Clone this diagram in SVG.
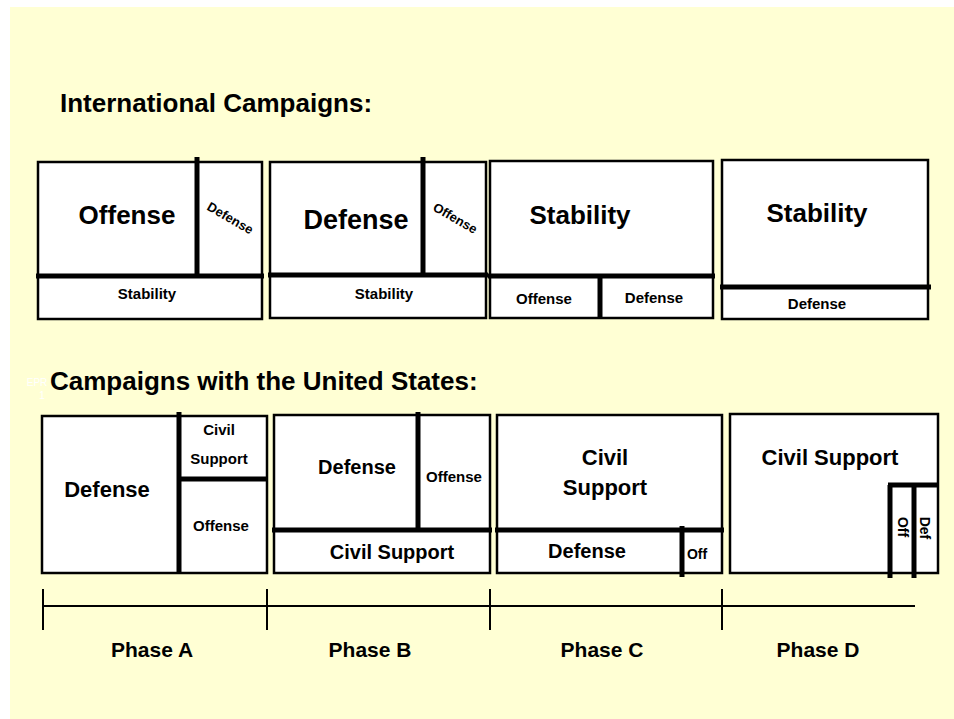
<svg xmlns="http://www.w3.org/2000/svg" width="954" height="719" viewBox="0 0 954 719">
<style>
text{font-family:"Liberation Sans",Arial,sans-serif;font-weight:bold;fill:#000;text-anchor:middle}
.box{fill:#fff;stroke:#000;stroke-width:2.5}
.div{stroke:#000;stroke-width:5;fill:none}
.tl{stroke:#000;stroke-width:2;fill:none}
.title{font-size:26px;text-anchor:start}
.big{font-size:26px}
.mid{font-size:21px}
.sm{font-size:15px}
.rot{font-size:13px}
.ph{font-size:21px}
</style>
<rect x="0" y="0" width="954" height="719" fill="#fff"/>
<rect x="10" y="7" width="944" height="712" fill="#FFFFD4"/>

<text class="title" x="60" y="112">International Campaigns:</text>
<text x="37" y="386" style="font-size:10px;fill:#fff;font-weight:normal">EPR</text>
<text x="42" y="399" style="font-size:10px;fill:#fff;font-weight:normal">1</text>
<text class="title" x="50" y="390">Campaigns with the United States:</text>

<g id="intl-phase-a">
<rect class="box" x="38" y="162" width="224" height="157"/>
<line class="div" x1="36" y1="276" x2="264" y2="276"/>
<line class="div" x1="197" y1="157" x2="197" y2="276"/>
<text class="big" x="127" y="224">Offense</text>
<text class="rot" transform="translate(228,222) rotate(30)">Defense</text>
<text class="sm" x="147" y="299">Stability</text>
</g>

<g id="intl-phase-b">
<rect class="box" x="270" y="162" width="216" height="156"/>
<line class="div" x1="268" y1="275" x2="488" y2="275"/>
<line class="div" x1="423" y1="157" x2="423" y2="275"/>
<text class="big" x="356" y="229" style="font-size:27px">Defense</text>
<text class="rot" transform="translate(453,222) rotate(30)">Offense</text>
<text class="sm" x="384" y="299">Stability</text>
</g>

<g id="intl-phase-c">
<rect class="box" x="490" y="161" width="223" height="157"/>
<line class="div" x1="488" y1="276" x2="715" y2="276"/>
<line class="div" x1="600" y1="276" x2="600" y2="318"/>
<text class="big" x="580" y="224">Stability</text>
<text class="sm" x="544" y="304">Offense</text>
<text class="sm" x="654" y="303">Defense</text>
</g>

<g id="intl-phase-d">
<rect class="box" x="722" y="160" width="206" height="159"/>
<line class="div" x1="720" y1="287" x2="931" y2="287"/>
<text class="big" x="817" y="222">Stability</text>
<text class="sm" x="817" y="309">Defense</text>
</g>

<g id="us-phase-a">
<rect class="box" x="42" y="416" width="225" height="157"/>
<line class="div" x1="179" y1="412" x2="179" y2="573"/>
<line class="div" x1="179" y1="479" x2="267" y2="479"/>
<text class="mid" x="107" y="497" style="font-size:22px">Defense</text>
<text class="sm" x="219" y="435">Civil</text>
<text class="sm" x="219" y="464">Support</text>
<text class="sm" x="221" y="531">Offense</text>
</g>

<g id="us-phase-b">
<rect class="box" x="274" y="415" width="216" height="158"/>
<line class="div" x1="272" y1="530" x2="492" y2="530"/>
<line class="div" x1="418" y1="412" x2="418" y2="530"/>
<text class="mid" x="357" y="474" style="font-size:20px">Defense</text>
<text class="sm" x="454" y="482">Offense</text>
<text class="mid" x="392" y="559" style="font-size:20px">Civil Support</text>
</g>

<g id="us-phase-c">
<rect class="box" x="497" y="415" width="225" height="158"/>
<line class="div" x1="495" y1="530" x2="724" y2="530"/>
<line class="div" x1="682" y1="526" x2="682" y2="577"/>
<text class="mid" x="605" y="465" style="font-size:22px">Civil</text>
<text class="mid" x="605" y="495" style="font-size:22px">Support</text>
<text class="mid" x="587" y="558" style="font-size:20px">Defense</text>
<text x="697" y="559" style="font-size:14px">Off</text>
</g>

<g id="us-phase-d">
<rect class="box" x="730" y="414" width="208" height="159"/>
<line class="div" x1="890" y1="485" x2="890" y2="578"/>
<line class="div" x1="914" y1="485" x2="914" y2="578"/>
<line class="div" x1="888" y1="485" x2="939" y2="485"/>
<text class="mid" x="830" y="465" style="font-size:22px">Civil Support</text>
<text style="font-size:14px" transform="translate(898,527) rotate(90)">Off</text>
<text style="font-size:14px" transform="translate(920,528) rotate(90)">Def</text>
</g>

<g id="connectors">
<line class="tl" x1="43" y1="606" x2="915" y2="606"/>
<line class="tl" x1="43" y1="589" x2="43" y2="630"/>
<line class="tl" x1="267" y1="589" x2="267" y2="630"/>
<line class="tl" x1="490" y1="589" x2="490" y2="630"/>
<line class="tl" x1="722" y1="589" x2="722" y2="630"/>
</g>

<g id="phases">
<text class="ph" x="152" y="657">Phase A</text>
<text class="ph" x="370" y="657">Phase B</text>
<text class="ph" x="602" y="657">Phase C</text>
<text class="ph" x="818" y="657">Phase D</text>
</g>
</svg>
